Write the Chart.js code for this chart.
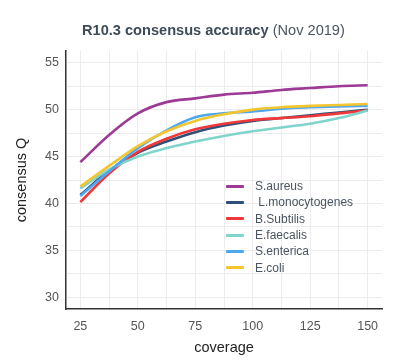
<!DOCTYPE html>
<html>
<head>
<meta charset="utf-8">
<script src="https://cdn.jsdelivr.net/npm/chart.js@4/dist/chart.umd.min.js"></script>
<style>
  body { margin: 0; background: #fff; font-family: "Liberation Sans", Arial, sans-serif; }
  #wrap { position: relative; width: 406px; height: 361px; }
  #titulo { position: absolute; left: 82px; top: 20px; font-size: 14.6px; line-height: 20px; color: #3e4b58; white-space: nowrap; }
  #titulo span { font-weight: normal; color: #4a5561; }
  #legenda { position: absolute; left: 226px; top: 178px; }
  .item { height: 16.3px; display: flex; align-items: center; font-size: 12px; color: #4a5561; white-space: pre; }
  .linha { width: 18px; height: 3px; margin-right: 11px; border-radius: 1px; }
</style>
</head>
<body>
<div id="wrap">
  <canvas id="grafico" width="406" height="361"></canvas>
  <div id="titulo"><b>R10.3 consensus accuracy</b> <span>(Nov 2019)</span></div>
  <div id="legenda"></div>
</div>
<script>
const coverage = [25, 37.5, 50, 62.5, 75, 87.5, 100, 112.5, 125, 137.5, 150];
const yTicks = [30, 32.5, 35, 37.5, 40, 42.5, 45, 47.5, 50, 52.5, 55];

const nomes = ['S.aureus', ' L.monocytogenes', 'B.Subtilis', 'E.faecalis', 'S.enterica', 'E.coli'];
const cores = ['#9c3a96', '#2d5078', '#f0383a', '#7fd4cc', '#4ea8ee', '#f2c531'];

const sAureus   = [44.4, 47.3, 49.6, 50.8, 51.2, 51.6, 51.8, 52.1, 52.3, 52.5, 52.6];
const lMono     = [40.9, 43.5, 45.4, 46.6, 47.6, 48.3, 48.8, 49.1, 49.4, 49.7, 50.0];
const bSubtilis = [40.15, 43.2, 45.5, 46.9, 47.9, 48.5, 48.9, 49.1, 49.3, 49.6, 49.9];
const eFaecalis = [41.6, 43.6, 45.0, 45.9, 46.6, 47.2, 47.7, 48.1, 48.5, 49.1, 49.9];
const sEnterica = [40.8, 43.4, 45.9, 47.8, 49.2, 49.6, 49.8, 50.1, 50.25, 50.35, 50.4];
const eColi     = [41.8, 44.0, 46.1, 47.7, 48.8, 49.5, 50.0, 50.25, 50.4, 50.5, 50.6];

const series = [sAureus, lMono, bSubtilis, eFaecalis, sEnterica, eColi];

const datasets = series.map((valores, i) => ({
  label: nomes[i].trim(),
  data: coverage.map((c, j) => ({ x: c, y: valores[j] })),
  borderColor: cores[i],
  borderWidth: 2.6,
  pointRadius: 0,
  cubicInterpolationMode: 'monotone',
  order: series.length - i // E.coli por cima
}));

const fonteTick = { family: '"Liberation Sans", Arial, sans-serif', size: 12.5 };
const fonteTitulo = { family: '"Liberation Sans", Arial, sans-serif', size: 14.5 };

new Chart(document.getElementById('grafico').getContext('2d'), {
  type: 'line',
  data: { datasets: datasets },
  options: {
    responsive: false,
    animation: false,
    layout: { padding: { top: 51, right: 24, left: 0, bottom: 0 } },
    plugins: { legend: { display: false }, tooltip: { enabled: false } },
    scales: {
      x: {
        type: 'linear',
        min: 18.75,
        max: 156.25,
        afterBuildTicks: s => { s.ticks = coverage.map(v => ({ value: v })); },
        afterFit: s => { s.height = 52; },
        grid: { color: '#ececec', lineWidth: 1, drawTicks: false },
        border: { display: true, color: '#333', width: 1.5 },
        ticks: {
          padding: 10,
          color: '#555',
          font: fonteTick,
          autoSkip: false,
          maxRotation: 0,
          callback: v => (v % 25 === 0 ? String(v) : '')
        },
        title: { display: true, text: 'coverage', color: '#222', font: fonteTitulo, padding: { top: 7 } }
      },
      y: {
        min: 28.75,
        max: 56.25,
        afterBuildTicks: s => { s.ticks = yTicks.map(v => ({ value: v })); },
        afterFit: s => { s.width = 66; },
        grid: { color: '#ececec', lineWidth: 1, drawTicks: false },
        border: { display: true, color: '#333', width: 1.5 },
        ticks: {
          padding: 7,
          color: '#555',
          font: fonteTick,
          autoSkip: false,
          callback: v => (v % 5 === 0 ? String(v) : '')
        },
        title: { display: true, text: 'consensus Q', color: '#222', font: fonteTitulo, padding: { top: 13 } }
      }
    }
  }
});

// legenda dentro da area do grafico
const legenda = document.getElementById('legenda');
nomes.forEach((nome, i) => {
  const item = document.createElement('div');
  item.className = 'item';
  item.innerHTML = `<div class="linha" style="background:${cores[i]}"></div>${nome}`;
  legenda.appendChild(item);
});
</script>
</body>
</html>
